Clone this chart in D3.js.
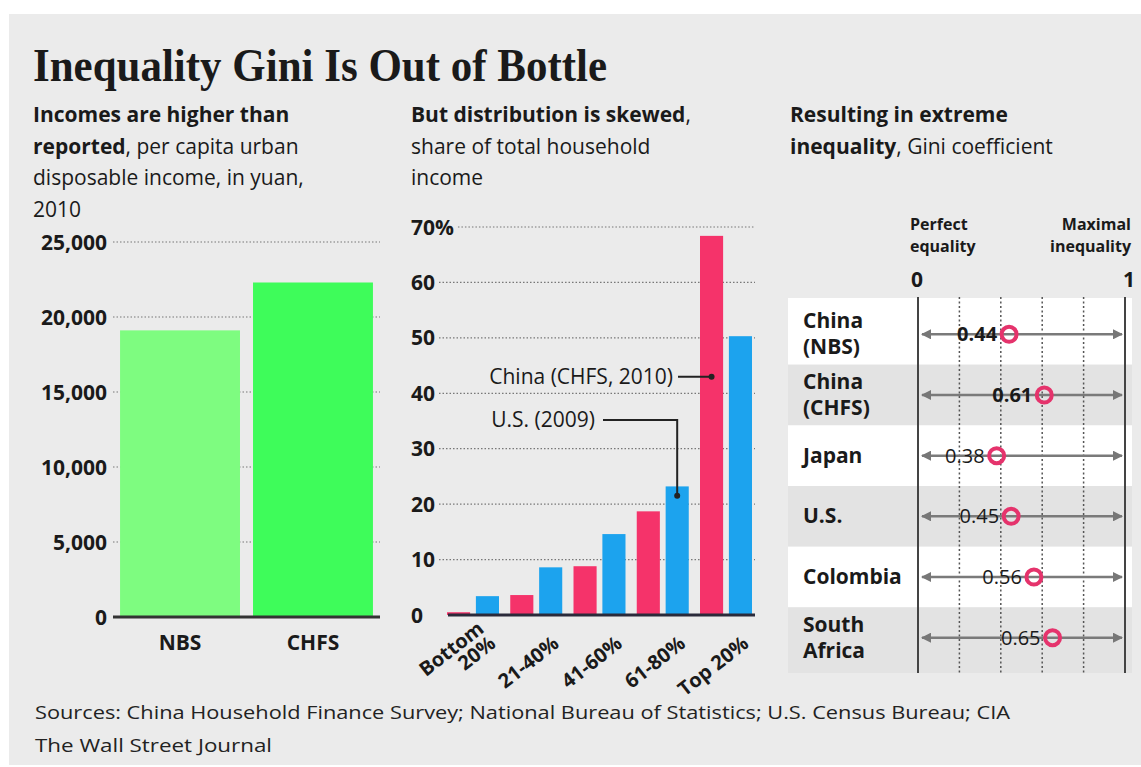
<!DOCTYPE html>
<html>
<head>
<meta charset="utf-8">
<script src="https://cdn.jsdelivr.net/npm/d3@7"></script>
<style>
  body { margin: 0; background: #fff; }
  text { font-family: "Open Sans", "DejaVu Sans", sans-serif; fill: #1a1a1a; }
</style>
</head>
<body>
<div id="chart"></div>
<script>
// ---- data ----
const incomeCats = ["NBS", "CHFS"];
const incomeValues = [19109, 22300];
const incomeTicks = [0, 5000, 10000, 15000, 20000, 25000];

const quintiles = ["Bottom 20%", "21-40%", "41-60%", "61-80%", "Top 20%"];
const chinaShare = [0.5, 3.6, 8.8, 18.7, 68.4];
const usShare = [3.4, 8.6, 14.6, 23.2, 50.3];
const shareTicks = [0, 10, 20, 30, 40, 50, 60, 70];

const giniCountries = ["China (NBS)", "China (CHFS)", "Japan", "U.S.", "Colombia", "South Africa"];
const giniLabelLines = [["China", "(NBS)"], ["China", "(CHFS)"], ["Japan"], ["U.S."], ["Colombia"], ["South", "Africa"]];
const giniValues = [0.44, 0.61, 0.38, 0.45, 0.56, 0.65];
const giniTicks = [0, 0.2, 0.4, 0.6, 0.8, 1];

const W = 1141, H = 767;
const svg = d3.select("#chart").append("svg")
    .attr("width", W).attr("height", H);

// background panel
svg.append("rect").attr("x", 9).attr("y", 14).attr("width", W - 9).attr("height", 751)
    .attr("fill", "#ebebeb");

// title
svg.append("text")
    .attr("x", 33).attr("y", 81)
    .attr("textLength", 574).attr("lengthAdjust", "spacingAndGlyphs")
    .style("font-family", "'Liberation Serif', 'DejaVu Serif', serif")
    .style("font-weight", "bold").style("font-size", "46px")
    .text("Inequality Gini Is Out of Bottle");

// helper for the mixed bold / regular subtitles
function subtitle(x, y0, lines) {
    lines.forEach((parts, i) => {
        const t = svg.append("text").attr("x", x).attr("y", y0 + i * 31.5)
            .style("font-size", "21px");
        parts.forEach(p => {
            t.append("tspan").style("font-weight", p[1] ? "bold" : "normal").text(p[0]);
        });
    });
}

subtitle(33, 122, [
    [["Incomes are higher than", true]],
    [["reported", true], [", per capita urban", false]],
    [["disposable income, in yuan,", false]],
    [["2010", false]]
]);
subtitle(411, 122, [
    [["But distribution is skewed", true], [",", false]],
    [["share of total household", false]],
    [["income", false]]
]);
subtitle(790, 122, [
    [["Resulting in extreme", true]],
    [["inequality", true], [", Gini coefficient", false]]
]);

// =================== LEFT: income bars ===================
const yL = d3.scaleLinear().domain([0, 25000]).range([617, 242]);
const xL = d3.scaleBand().domain(incomeCats).range([113, 380])
    .paddingInner(0.098).paddingOuter(0.053);

const left = svg.append("g");
left.selectAll(".gridL").data(incomeTicks.filter(d => d > 0)).enter()
    .append("line")
    .attr("x1", 113).attr("x2", 380)
    .attr("y1", d => yL(d)).attr("y2", d => yL(d))
    .attr("stroke", "#777").attr("stroke-width", 1.2)
    .attr("stroke-dasharray", "1.5,2");

left.selectAll(".barL").data(incomeValues).enter()
    .append("rect")
    .attr("x", (d, i) => xL(incomeCats[i]))
    .attr("width", xL.bandwidth())
    .attr("y", d => yL(d))
    .attr("height", d => yL(0) - yL(d))
    .attr("fill", (d, i) => i === 0 ? "#7efc80" : "#3efc5a");

left.append("line").attr("x1", 113).attr("x2", 380)
    .attr("y1", yL(0)).attr("y2", yL(0))
    .attr("stroke", "#333").attr("stroke-width", 3);

left.selectAll(".tickL").data(incomeTicks).enter()
    .append("text")
    .attr("x", 107).attr("y", d => yL(d)).attr("dy", "0.36em")
    .attr("text-anchor", "end")
    .style("font-size", "21px").style("font-weight", "bold")
    .text(d => d3.format(",")(d));

left.selectAll(".catL").data(incomeCats).enter()
    .append("text")
    .attr("x", d => xL(d) + xL.bandwidth() / 2).attr("y", 650)
    .attr("text-anchor", "middle")
    .style("font-size", "21px").style("font-weight", "bold")
    .text(d => d);

// =================== MIDDLE: quintile shares ===================
const yM = d3.scaleLinear().domain([0, 70]).range([615, 227]);
const x0 = d3.scaleBand().domain(quintiles).range([447, 752]).paddingInner(0.178);
const x1 = d3.scaleBand().domain(["China", "US"]).range([0, x0.bandwidth()]).paddingInner(0.2);

const mid = svg.append("g");
const tickM = mid.selectAll(".tickM").data(shareTicks).enter()
    .append("text")
    .attr("x", 411).attr("y", d => yM(d)).attr("dy", "0.36em")
    .style("font-size", "21px").style("font-weight", "bold")
    .text(d => d === 70 ? "70%" : d);

tickM.each(function(d) {
    if (d === 0) return;
    const w = this.getComputedTextLength();
    mid.insert("line", ":first-child")
        .attr("x1", 411 + w + 4).attr("x2", 755)
        .attr("y1", yM(d)).attr("y2", yM(d))
        .attr("stroke", "#777").attr("stroke-width", 1.2)
        .attr("stroke-dasharray", "1.5,2");
});

const groups = mid.selectAll(".grp").data(quintiles).enter()
    .append("g").attr("transform", d => `translate(${x0(d)},0)`);

groups.append("rect")
    .attr("x", x1("China")).attr("width", x1.bandwidth())
    .attr("y", (d, i) => yM(chinaShare[i]))
    .attr("height", (d, i) => yM(0) - yM(chinaShare[i]))
    .attr("fill", "#f5336a");

groups.append("rect")
    .attr("x", x1("US")).attr("width", x1.bandwidth())
    .attr("y", (d, i) => yM(usShare[i]))
    .attr("height", (d, i) => yM(0) - yM(usShare[i]))
    .attr("fill", "#1ca3ee");

mid.append("line").attr("x1", 448).attr("x2", 755)
    .attr("y1", yM(0)).attr("y2", yM(0))
    .attr("stroke", "#2a2a3a").attr("stroke-width", 3);

// rotated quintile labels
quintiles.forEach(q => {
    const cx = x0(q) + x0.bandwidth() / 2;
    const lines = q === "Bottom 20%" ? ["Bottom", "20%"] : [q];
    const t = mid.append("text")
        .attr("transform", `translate(${cx + 24},${646}) rotate(-38)`)
        .attr("text-anchor", "end")
        .style("font-size", "20px").style("font-weight", "bold");
    lines.forEach((l, i) => {
        t.append("tspan").attr("x", 0)
            .attr("dy", i === 0 ? `${-(lines.length - 1) * 0.95}em` : "0.95em")
            .text(l);
    });
});

// annotations
const chinaX = x0("Top 20%") + x1("China") + x1.bandwidth() / 2;
const chinaY = yM(43);
mid.append("text").attr("x", 673).attr("y", chinaY + 7).attr("text-anchor", "end")
    .style("font-size", "21px").text("China (CHFS, 2010)");
mid.append("line").attr("x1", 678).attr("x2", chinaX).attr("y1", chinaY).attr("y2", chinaY)
    .attr("stroke", "#222").attr("stroke-width", 2);
mid.append("circle").attr("cx", chinaX).attr("cy", chinaY).attr("r", 3).attr("fill", "#222");

const usX = x0("61-80%") + x1("US") + x1.bandwidth() / 2;
const usY = yM(21.5);
const usTextY = yM(35.2);
mid.append("text").attr("x", 595).attr("y", usTextY + 7).attr("text-anchor", "end")
    .style("font-size", "21px").text("U.S. (2009)");
mid.append("path")
    .attr("d", `M603,${usTextY}H${usX}V${usY}`)
    .attr("fill", "none").attr("stroke", "#222").attr("stroke-width", 2);
mid.append("circle").attr("cx", usX).attr("cy", usY).attr("r", 3).attr("fill", "#222");

// =================== RIGHT: Gini coefficients ===================
const xR = d3.scaleLinear().domain([0, 1]).range([918, 1125]);
const yR = d3.scaleBand().domain(giniCountries).range([304, 668]);

const right = svg.append("g");
right.selectAll(".stripe").data(giniCountries).enter()
    .append("rect")
    .attr("x", 788).attr("width", 344)
    .attr("y", (d, i) => i === 0 ? 298 : yR(d))
    .attr("height", (d, i) => i === 0 ? yR.bandwidth() + 6 : (i === giniCountries.length - 1 ? yR.bandwidth() + 5 : yR.bandwidth()))
    .attr("fill", (d, i) => i % 2 === 0 ? "#ffffff" : "#e3e3e3");

right.selectAll(".gridR").data(giniTicks).enter()
    .append("line")
    .attr("x1", d => xR(d)).attr("x2", d => xR(d))
    .attr("y1", 297).attr("y2", 673)
    .attr("stroke", d => (d === 0 || d === 1) ? "#444" : "#555")
    .attr("stroke-width", d => (d === 0 || d === 1) ? 2 : 1.5)
    .attr("stroke-dasharray", d => (d === 0 || d === 1) ? null : "2,2.5");

// arrowheads
const defs = svg.append("defs");
defs.append("marker").attr("id", "arr").attr("viewBox", "0 0 10 10")
    .attr("refX", 9).attr("refY", 5).attr("markerWidth", 4).attr("markerHeight", 4)
    .attr("orient", "auto-start-reverse")
    .append("path").attr("d", "M0,0L10,5L0,10Z").attr("fill", "#777");

right.selectAll(".arrow").data(giniCountries).enter()
    .append("line")
    .attr("x1", xR(0) + 4).attr("x2", xR(1) - 3)
    .attr("y1", d => yR(d) + yR.bandwidth() / 2)
    .attr("y2", d => yR(d) + yR.bandwidth() / 2)
    .attr("stroke", "#7a7a7a").attr("stroke-width", 2.5)
    .attr("marker-start", "url(#arr)").attr("marker-end", "url(#arr)");

right.selectAll(".dot").data(giniValues).enter()
    .append("circle")
    .attr("cx", d => xR(d))
    .attr("cy", (d, i) => yR(giniCountries[i]) + yR.bandwidth() / 2)
    .attr("r", 7.5)
    .attr("fill", "none").attr("stroke", "#e5336c").attr("stroke-width", 4);

right.selectAll(".val").data(giniValues).enter()
    .append("text")
    .attr("x", d => xR(d) - 12)
    .attr("y", (d, i) => yR(giniCountries[i]) + yR.bandwidth() / 2 + 7)
    .attr("text-anchor", "end")
    .style("font-size", "20px")
    .style("font-weight", (d, i) => i < 2 ? "bold" : "normal")
    .text(d => d.toFixed(2));

giniCountries.forEach((c, i) => {
    const lines = giniLabelLines[i];
    const cy = yR(c) + yR.bandwidth() / 2;
    const t = right.append("text").attr("x", 803)
        .attr("y", lines.length === 2 ? cy - 6 : cy + 7)
        .style("font-size", "21px").style("font-weight", "bold");
    lines.forEach((l, j) => {
        t.append("tspan").attr("x", 803).attr("dy", j === 0 ? 0 : 26).text(l);
    });
});

// axis headers
[["Perfect", 230], ["equality", 252]].forEach(([s, y]) => {
    right.append("text").attr("x", 910).attr("y", y)
        .style("font-size", "16px").style("font-weight", "bold").text(s);
});
[["Maximal", 230], ["inequality", 252]].forEach(([s, y]) => {
    right.append("text").attr("x", 1131).attr("y", y).attr("text-anchor", "end")
        .style("font-size", "16px").style("font-weight", "bold").text(s);
});
right.append("text").attr("x", xR(0) - 1).attr("y", 287).attr("text-anchor", "middle")
    .style("font-size", "21px").style("font-weight", "bold").text("0");
right.append("text").attr("x", xR(1) + 4).attr("y", 287).attr("text-anchor", "middle")
    .style("font-size", "21px").style("font-weight", "bold").text("1");

// footer
svg.append("text").attr("x", 35).attr("y", 719)
    .attr("textLength", 975).attr("lengthAdjust", "spacingAndGlyphs")
    .style("font-size", "19px").style("fill", "#222")
    .text("Sources: China Household Finance Survey; National Bureau of Statistics; U.S. Census Bureau; CIA");
svg.append("text").attr("x", 35).attr("y", 752)
    .attr("textLength", 237).attr("lengthAdjust", "spacingAndGlyphs")
    .style("font-size", "19px").style("fill", "#222")
    .text("The Wall Street Journal");
</script>
</body>
</html>
